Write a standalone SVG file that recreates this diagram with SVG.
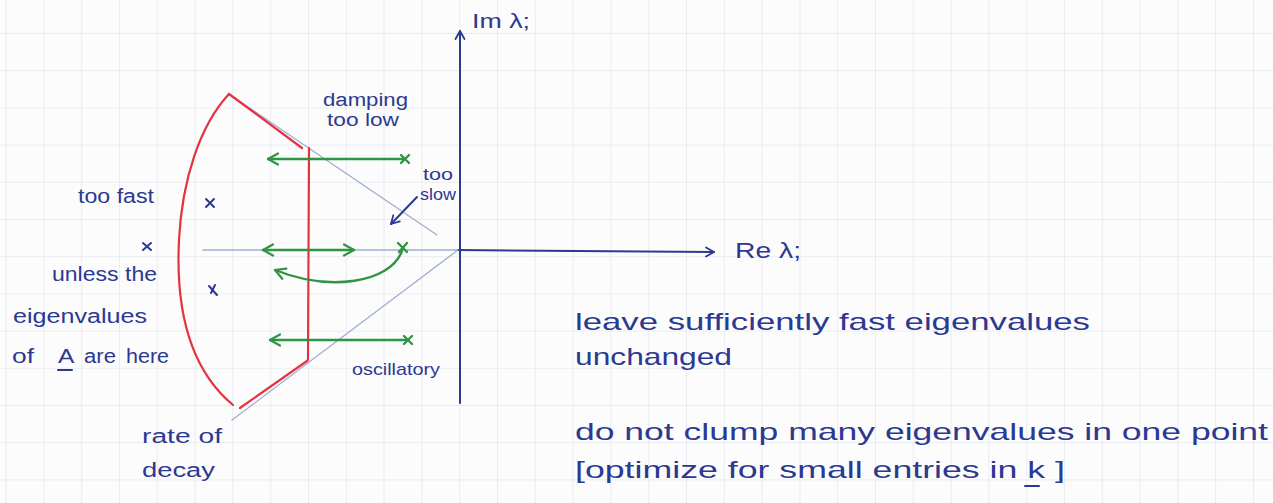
<svg xmlns="http://www.w3.org/2000/svg" width="1273" height="503" viewBox="0 0 1273 503">
<defs>
<pattern id="grid" x="5.6" y="-4.2" width="37.8" height="37.2" patternUnits="userSpaceOnUse">
<path d="M 0 0 L 0 37.2 M 0 0 L 37.8 0" fill="none" stroke="#e6e8ee" stroke-width="1.6"/>
</pattern>
<marker id="hg" viewBox="-12 -7 14 14" refX="0" refY="0" markerWidth="14" markerHeight="14" markerUnits="userSpaceOnUse" orient="auto-start-reverse">
<path d="M -10 -5.5 L 0 0 L -10 5.5" fill="none" stroke="#2f9444" stroke-width="2.2" stroke-linecap="round" stroke-linejoin="round"/>
</marker>
<marker id="hb" viewBox="-12 -7 14 14" refX="0" refY="0" markerWidth="14" markerHeight="14" markerUnits="userSpaceOnUse" orient="auto">
<path d="M -8 -4.5 L 0 0 L -8 4.5" fill="none" stroke="#2b3990" stroke-width="1.8" stroke-linecap="round" stroke-linejoin="round"/>
</marker>
</defs>
<style>
.t{font-family:"Liberation Sans",Arial,sans-serif;fill:#2b3990;}
.ink{fill:none;stroke:#2b3990;stroke-width:2;stroke-linecap:round;stroke-linejoin:round;}
.red{fill:none;stroke:#e5323f;stroke-width:2.2;stroke-linecap:round;stroke-linejoin:round;}
.grn{fill:none;stroke:#2f9444;stroke-width:2.4;stroke-linecap:round;stroke-linejoin:round;}
.thin{fill:none;stroke:#9eadd0;stroke-width:1.3;stroke-linecap:round;}
</style>
<rect x="0" y="0" width="1273" height="503" fill="#fcfcfd"/>
<rect x="0" y="0" width="1273" height="503" fill="url(#grid)"/>

<g id="axes">
<line class="thin" x1="203" y1="250" x2="458" y2="250" stroke="#7e8cc6"/>
<path class="ink" d="M 458 250 L 714 252" marker-end="url(#hb)"/>
<path class="ink" d="M 460 403 L 460 31" marker-end="url(#hb)"/>
<text class="t" x="472" y="28" font-size="20" textLength="58" lengthAdjust="spacingAndGlyphs">Im λ;</text>
<text class="t" x="735" y="258" font-size="22" textLength="66" lengthAdjust="spacingAndGlyphs">Re λ;</text>
</g>

<g id="damping-lines">
<line class="thin" x1="229" y1="94" x2="437" y2="235"/>
<line class="thin" x1="458" y1="250" x2="232" y2="420"/>
</g>

<g id="region">
<path class="red" d="M 229 94 C 200 125, 182 180, 179 240 C 176 300, 185 365, 233 405"/>
<path class="red" d="M 229 94 L 302 148" stroke-width="3"/>
<path class="red" d="M 309 148 L 308 360"/>
<path class="red" d="M 307 361 L 240 408" stroke-width="2.6"/>
</g>

<g id="eigenvalues">
<path class="ink" d="M 206 199 L 214 207 M 214 199 L 206 207"/>
<path class="ink" d="M 143 243 L 151 250 M 151 243 L 143 250"/>
<path class="ink" d="M 209 286 L 217 295 M 215 285 L 211 293"/>
</g>

<g id="connectors">
<path class="grn" d="M 405 159 L 268 159" marker-end="url(#hg)"/>
<path class="grn" d="M 401 155 L 409 163 M 409 155 L 401 163"/>
<path class="grn" d="M 263 250 L 354 250" marker-start="url(#hg)" marker-end="url(#hg)"/>
<path class="grn" d="M 398 243 L 407 252 M 407 243 L 399 252"/>
<path class="grn" d="M 402 251 C 390 283, 330 292, 275 270" marker-end="url(#hg)"/>
<path class="grn" d="M 408 340 L 270 340" marker-end="url(#hg)"/>
<path class="grn" d="M 404 336 L 412 344 M 412 336 L 404 344"/>
<path class="ink" d="M 417 197 L 391 224" marker-end="url(#hb)" stroke-width="1.6"/>
</g>

<g id="labels">
<text class="t" x="323" y="106" font-size="18" textLength="85" lengthAdjust="spacingAndGlyphs">damping</text>
<text class="t" x="327" y="126" font-size="18" textLength="72" lengthAdjust="spacingAndGlyphs">too low</text>
<text class="t" x="423" y="180" font-size="16" textLength="30" lengthAdjust="spacingAndGlyphs">too</text>
<text class="t" x="420" y="200" font-size="16" textLength="36" lengthAdjust="spacingAndGlyphs">slow</text>
<text class="t" x="78" y="203" font-size="20" textLength="76" lengthAdjust="spacingAndGlyphs">too fast</text>
<text class="t" x="52" y="281" font-size="20" textLength="105" lengthAdjust="spacingAndGlyphs">unless the</text>
<text class="t" x="13" y="323" font-size="20" textLength="134" lengthAdjust="spacingAndGlyphs">eigenvalues</text>
<text class="t" y="363" font-size="20"><tspan x="12" textLength="22" lengthAdjust="spacingAndGlyphs">of</tspan> <tspan x="58" textLength="15" lengthAdjust="spacingAndGlyphs">A</tspan> <tspan x="84" textLength="32" lengthAdjust="spacingAndGlyphs">are</tspan> <tspan x="126" textLength="43" lengthAdjust="spacingAndGlyphs">here</tspan></text>
<line class="ink" x1="58" y1="370" x2="72" y2="370"/>
<text class="t" x="352" y="375" font-size="17" textLength="88" lengthAdjust="spacingAndGlyphs">oscillatory</text>
<text class="t" x="142" y="443" font-size="20" textLength="80" lengthAdjust="spacingAndGlyphs">rate of</text>
<text class="t" x="142" y="477" font-size="20" textLength="73" lengthAdjust="spacingAndGlyphs">decay</text>
<text class="t" x="575" y="330" font-size="24" textLength="515" lengthAdjust="spacingAndGlyphs">leave sufficiently fast eigenvalues</text>
<text class="t" x="575" y="365" font-size="24" textLength="157" lengthAdjust="spacingAndGlyphs">unchanged</text>
<text class="t" x="575" y="440" font-size="24" textLength="693" lengthAdjust="spacingAndGlyphs">do not clump many eigenvalues in one point</text>
<text class="t" x="575" y="478" font-size="24" textLength="490" lengthAdjust="spacingAndGlyphs">[optimize for small entries in k ]</text>
<line class="ink" x1="1025" y1="486" x2="1039" y2="486"/>
</g>
</svg>
